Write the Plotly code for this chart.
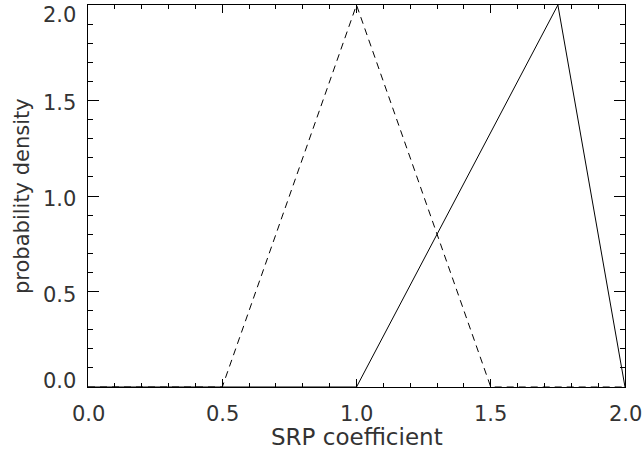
import plotly.graph_objects as go

# Data
dashed_x = [0.0, 0.5, 1.0, 1.5, 2.0]
dashed_y = [0.0, 0.0, 2.0, 0.0, 0.0]
solid_x = [0.0, 1.0, 1.75, 2.0]
solid_y = [0.0, 0.0, 2.0, 0.0]

x_tick_vals = [0.0, 0.5, 1.0, 1.5, 2.0]
x_tick_text = ["0.0", "0.5", "1.0", "1.5", "2.0"]
y_tick_vals = [0.0, 0.5, 1.0, 1.5, 2.0]
y_tick_text = ["0.0", "0.5", "1.0", "1.5", "2.0"]
y_label_shift = [6, -3, -3, -2, -10]

FONT = "DejaVu Sans ExtraLight, DejaVu Sans"
TXT = "#333333"

fig = go.Figure()
fig.add_trace(go.Scatter(x=dashed_x, y=dashed_y, mode="lines",
                         line=dict(color="black", width=1, dash="7px,5px"),
                         showlegend=False, hoverinfo="skip"))
fig.add_trace(go.Scatter(x=solid_x, y=solid_y, mode="lines",
                         line=dict(color="black", width=1),
                         showlegend=False, hoverinfo="skip"))

annotations = []
for v, t in zip(x_tick_vals, x_tick_text):
    annotations.append(dict(x=v, y=0, xref="x", yref="paper", text=t,
                            showarrow=False, yanchor="middle", xanchor="center",
                            yshift=-27, font=dict(family=FONT, size=21, color=TXT)))
for v, t, s in zip(y_tick_vals, y_tick_text, y_label_shift):
    annotations.append(dict(x=0, y=v, xref="paper", yref="y", text=t,
                            showarrow=False, xanchor="right", yanchor="middle",
                            xshift=-10, yshift=s, font=dict(family=FONT, size=21, color=TXT)))
# Axis titles
annotations.append(dict(x=0.5, y=0, xref="paper", yref="paper", text="SRP coefficient",
                        showarrow=False, xanchor="center", yanchor="middle", yshift=-50,
                        font=dict(family=FONT, size=23, color=TXT)))
annotations.append(dict(x=0, y=0.5, xref="paper", yref="paper", text="probability density",
                        showarrow=False, xanchor="center", yanchor="middle", xshift=-66,
                        textangle=-90, font=dict(family=FONT, size=21, color=TXT)))

axis_common = dict(showgrid=False, zeroline=False, showline=True, linecolor="black",
                   linewidth=1, mirror="allticks", ticks="inside", tickcolor="black",
                   tickwidth=1, showticklabels=False)

fig.update_layout(
    width=643, height=454,
    margin=dict(l=88, r=18, t=5, b=67),
    paper_bgcolor="white", plot_bgcolor="white",
    annotations=annotations,
    xaxis=dict(range=[0, 2], tickvals=x_tick_vals, ticklen=8,
               minor=dict(dtick=0.1, ticklen=4, ticks="inside", tickcolor="black", tickwidth=1),
               **axis_common),
    yaxis=dict(range=[0, 2], tickvals=y_tick_vals, ticklen=11,
               minor=dict(dtick=0.1, ticklen=5, ticks="inside", tickcolor="black", tickwidth=1),
               **axis_common),
)

fig.write_html("out.html", config={"displayModeBar": False})
